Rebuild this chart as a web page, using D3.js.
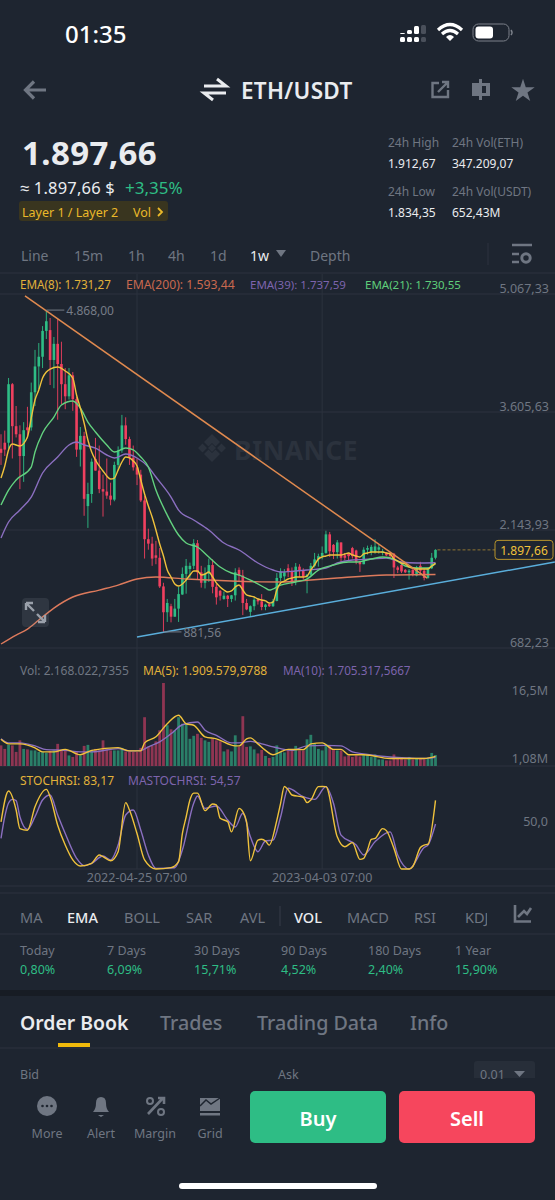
<!DOCTYPE html>
<html>
<head>
<meta charset="utf-8">
<script src="https://cdn.jsdelivr.net/npm/d3@7"></script>
<style>
  html, body { margin: 0; padding: 0; background: #1e2530; }
  svg { display: block; }
  text { font-family: "Noto Sans", sans-serif; }
</style>
</head>
<body>
<div id="chart"></div>
<script>
// weekly ETH/USDT candles: open, high, low, close
var ohlc = [
  [3150,3330,2950,3100],[3225,3375,3060,3140],[3225,4027,3150,3950],[3950,3965,3030,3430],
  [3430,3680,3290,3330],[3330,3440,2650,3060],[3060,3480,2740,3380],[3415,3670,3280,3380],
  [3415,3970,3375,3850],[3850,4375,3680,4170],[4170,4460,3890,4290],[4290,4670,4150,4610],
  [4610,4868,4510,4730],[4620,4770,3940,4250],[4250,4535,3900,4450],[4450,4755,3510,4200],
  [4200,4476,3700,3950],[3950,4150,3640,3800],[3800,4150,3760,4060],[4060,4100,3620,3765],
  [3765,3795,3050,3140],[3140,3420,2930,3310],[3310,3360,2320,2530],[2440,2730,2170,2590],
  [2590,3030,2480,2990],[3025,3285,2880,2880],[2880,3190,2600,2650],[2650,2830,2310,2620],
  [2620,3030,2530,2570],[2570,2730,2450,2520],[2520,2990,2500,2950],[2950,3180,2880,3130],
  [3130,3570,3100,3440],[3440,3540,3200,3270],[3270,3300,2950,3040],[3040,3190,2880,2920],
  [2920,3030,2700,2830],[2830,2890,2490,2510],[2510,2570,1790,2030],[2030,2160,1900,1975],
  [1975,2060,1700,1790],[1830,2010,1720,1800],[1800,1920,1425,1445],[1445,1490,881.56,1125],
  [1125,1290,1005,1240],[1200,1230,1000,1070],[1070,1290,1070,1170],[1170,1440,1005,1350],
  [1345,1680,1340,1600],[1600,1785,1355,1700],[1660,1740,1550,1700],[1700,2030,1660,1980],
  [1980,2020,1530,1620],[1620,1700,1430,1490],[1490,1680,1420,1600],[1600,1790,1500,1710],
  [1710,1780,1360,1440],[1440,1480,1220,1310],[1390,1400,1270,1330],[1290,1380,1280,1330],
  [1330,1340,1190,1290],[1290,1340,1250,1335],[1335,1670,1270,1620],[1650,1680,1500,1580],
  [1580,1650,1090,1240],[1240,1290,1150,1160],[1130,1210,1070,1200],[1200,1300,1150,1280],
  [1280,1300,1220,1260],[1260,1350,1150,1190],[1190,1230,1150,1220],[1225,1240,1190,1200],
  [1200,1290,1190,1265],[1265,1610,1260,1550],[1550,1670,1510,1630],[1570,1660,1520,1620],
  [1670,1720,1560,1630],[1630,1680,1450,1510],[1510,1735,1460,1690],[1690,1720,1560,1640],
  [1640,1670,1530,1565],[1565,1600,1360,1590],[1590,1735,1580,1700],[1700,1860,1680,1780],
  [1780,1850,1690,1820],[1820,1940,1780,1860],[1860,2135,1850,2090],[2090,2120,1810,1880],
  [1960,1970,1785,1870],[1870,2020,1790,1990],[1990,1990,1740,1800],[1830,1860,1770,1800],
  [1850,1860,1760,1820],[1920,1935,1790,1820],[1890,1900,1720,1750],[1750,1760,1625,1720],
  [1720,1930,1720,1900],[1900,1950,1840,1920],[1870,1960,1830,1935],[1870,2030,1850,1940],
  [1900,1960,1850,1930],[1860,1910,1830,1880],[1860,1870,1820,1830],[1860,1870,1790,1820],
  [1850,1860,1550,1680],[1680,1700,1610,1650],[1710,1740,1610,1630],[1650,1660,1610,1620],
  [1620,1660,1530,1640],[1650,1660,1570,1600],[1580,1700,1570,1680],[1700,1750,1600,1640],
  [1640,1660,1520,1550],[1550,1680,1540,1670],[1670,1860,1660,1800],[1800,1905,1780,1897.66]
];

// weekly volume in millions
var volume = [
  4.1,3.4,4.2,4.1,2.8,5.1,3.4,3.3,3.1,3.1,2.8,2.8,2.6,3.0,3.1,4.4,3.2,3.1,2.1,1.8,
  2.8,2.1,4.0,4.2,3.1,3.4,3.1,5.1,3.4,3.1,3.1,3.1,3.6,2.9,2.9,2.8,2.8,3.6,9.7,3.8,
  4.0,4.9,7.1,16.5,8.1,7.3,7.1,9.7,8.4,8.4,5.4,6.0,6.4,5.6,5.1,4.8,5.4,5.1,4.9,2.9,
  3.3,2.9,6.1,3.8,9.9,3.8,3.9,3.3,2.5,3.2,2.0,1.6,1.8,4.1,2.8,2.7,3.1,3.1,4.0,3.1,
  3.1,5.3,6.2,4.4,3.4,3.1,4.4,4.1,3.4,3.1,3.1,1.9,2.1,1.8,2.1,1.9,2.3,2.3,1.8,2.3,
  1.3,1.3,1.1,1.1,2.3,1.5,1.6,1.3,1.8,1.3,1.5,1.5,1.3,1.6,2.6,2.168
];

// indicator lines: [week index, value]
var ema8 = [[0,2788],[1,2937],[2,3135],[3,3209],[5,3185],[7,3296],[8,3531],[9,3754],[10,3878],[11,4027],[12,4101],[13,4138],[15,4163],[17,4114],[19,4027],[20,3816],[21,3655],[22,3469],[23,3259],[24,3110],[25,3011],[26,2937],[27,2875],[28,2813],[29,2776],[30,2788],[31,2887],[32,2986],[33,3048],[34,3036],[35,2999],[36,2937],[37,2763],[38,2590],[39,2441],[40,2305],[41,2144],[42,1970],[43,1822],[44,1649],[45,1562],[46,1475],[47,1450],[48,1475],[49,1525],[50,1587],[51,1636],[52,1636],[53,1587],[54,1599],[55,1624],[56,1562],[57,1488],[58,1438],[59,1401],[60,1376],[61,1389],[62,1438],[63,1463],[64,1401],[65,1339],[66,1326],[67,1314],[68,1289],[69,1277],[70,1265],[71,1240],[72,1252],[73,1401],[74,1487],[75,1512],[76,1537],[77,1549],[78,1562],[80,1562],[81,1574],[82,1649],[83,1711],[84,1785],[85,1810],[86,1822],[87,1835],[90,1835],[91,1847],[92,1859],[93,1835],[94,1822],[95,1810],[96,1847],[97,1859],[98,1871],[101,1871],[102,1859],[103,1847],[104,1785],[105,1760],[106,1735],[107,1723],[108,1686],[109,1673],[110,1661],[113,1661],[114,1698],[115,1731.27]];
var ema21 = [[0,2453],[2,2639],[4,2763],[8,2924],[9,3110],[11,3345],[14,3543],[16,3692],[19,3742],[21,3655],[23,3481],[25,3358],[28,3197],[30,3110],[33,3159],[35,3135],[37,3048],[39,2924],[41,2639],[44,2329],[47,2082],[49,1983],[52,1933],[55,1809],[58,1685],[61,1611],[63,1586],[67,1500],[70,1425],[71,1400],[74,1462],[78,1500],[81,1537],[84,1648],[88,1710],[92,1747],[94,1747],[98,1784],[101,1809],[104,1784],[107,1698],[110,1673],[113,1673],[115,1730.55]];
var ema39 = [[0,2045],[2,2243],[5,2391],[8,2552],[11,2850],[15,3048],[18,3197],[20,3234],[22,3197],[25,3159],[28,3073],[30,3036],[33,3085],[36,3036],[39,2924],[41,2800],[45,2552],[47,2391],[51,2268],[55,2144],[59,1983],[63,1896],[68,1735],[72,1648],[74,1623],[78,1636],[81,1648],[86,1673],[89,1735],[93,1772],[98,1784],[102,1797],[106,1747],[110,1735],[115,1737.59]];
var ema200 = [[0,732],[4,843],[7,917],[10,1029],[14,1177],[19,1314],[26,1400],[31,1462],[36,1537],[41,1562],[49,1537],[61,1512],[74,1500],[82,1524],[89,1549],[102,1586],[115,1593.44]];
var volMa5 = [[0,5.3],[2,4.4],[5,4.4],[9,3.6],[11,2.8],[14,2.8],[17,3.3],[21,2.25],[24,3.1],[31,3.65],[34,3.0],[37,3.0],[38,4.6],[41,5.8],[44,8.4],[47,10.1],[49,8.4],[51,8.1],[54,5.8],[57,5.4],[62,4.0],[63,4.0],[65,5.4],[66,5.6],[68,4.4],[70,3.1],[72,2.25],[74,2.8],[76,3.3],[80,3.25],[82,4.4],[85,4.6],[88,3.3],[90,3.3],[92,2.25],[96,2.25],[103,1.5],[108,1.5],[112,1.5],[115,1.91]];
var volMa10 = [[0,5.4],[2,4.6],[5,4.6],[9,4.0],[12,3.25],[17,3.1],[21,2.8],[24,2.8],[31,3.45],[34,3.0],[37,3.1],[39,3.8],[42,4.8],[45,6.4],[48,8.2],[52,8.75],[54,7.1],[57,6.1],[61,4.6],[63,4.6],[66,4.9],[69,4.4],[72,3.8],[74,3.45],[77,3.1],[81,4.0],[86,4.1],[90,4.0],[93,2.8],[97,2.3],[103,1.8],[108,1.6],[112,1.5],[115,1.705]];
var stochRsi = [[0,57],[2,94.5],[4,71.5],[5,49],[7,47],[9,75.5],[12,96.5],[13,87.7],[15,53],[17,29],[19,11],[21,3.6],[24,6.9],[26,17],[27,15],[29,10],[31,21],[33,80.4],[34,71.5],[36,43],[38,11],[41,0],[45,1.6],[47,8.9],[48,43],[49,63],[50,83.6],[51,92],[52,92],[54,70.7],[56,78.8],[57,77.6],[58,61.4],[60,57.4],[61,45],[63,73.5],[64,69.5],[65,57],[66,10],[68,35],[69,36],[70,34],[71,29],[73,59],[74,79.6],[75,100],[76,96],[77,89.7],[80,87],[81,80.4],[82,83.6],[84,99.8],[85,100],[86,99.8],[89,39],[91,27],[93,32],[95,11.7],[96,13],[97,23],[98,36],[99,37],[101,49],[102,46.5],[104,25],[106,0],[108,0],[109,3],[111,26],[112,29],[113,30],[115,83.17]];
var maStochRsi = [[0,37],[1,63.4],[2,80],[3,84.4],[4,82.8],[5,63.4],[7,48],[9,63.4],[11,83.6],[13,89.7],[15,65.4],[17,43],[20,13],[22,4],[24,6.9],[27,15.8],[29,11],[31,29],[33,65.4],[35,71.5],[37,47],[39,17],[41,0.8],[46,1.6],[48,23],[51,79.6],[52,88.5],[54,73.5],[57,76.4],[60,59.4],[62,51],[64,67.5],[66,39],[68,21],[70,34],[72,35],[74,63],[76,97.8],[80,87.7],[83,84.4],[86,99.8],[88,79.6],[90,41],[94,29],[96,17],[99,33],[103,45],[105,17],[108,0],[112,26],[113,29],[115,54.57]];

// hand-drawn trend lines: [week index, price]
var downTrend = [[6.35,5043],[112.8,1549]];
var upTrend = [[36,818],[146.6,1747]];

var priceTicks = [5067.33,3605.63,2143.93,682.23];
var volumeTicks = [16.5,1.08];
var stochTicks = [50];
var dateWeeks = [36,85];
var dateLabels = ["2022-04-25 07:00","2023-04-03 07:00"];

var timeTabs = ["Line","15m","1h","4h","1d","1w","Depth"];
var timeTabX = [21,74,128,168,210,250,310];
var indicatorTabs = ["MA","EMA","BOLL","SAR","AVL","VOL","MACD","RSI","KDJ"];
var indicatorTabX = [20,67,124,186,240,294,347,414,465];
var periodLabels = ["Today","7 Days","30 Days","90 Days","180 Days","1 Year"];
var periodValues = ["0,80%","6,09%","15,71%","4,52%","2,40%","15,90%"];
var periodX = [20,107,194,281,368,455];
var bookTabs = ["Order Book","Trades","Trading Data","Info"];
var bookTabX = [20,160,257,410];
var navLabels = ["More","Alert","Margin","Grid"];
var navX = [47,101,155,210];

var GREEN = "#2ebd85", RED = "#f0405f", GREY = "#6f7682", LIGHT = "#eaecef";
var YELLOW = "#e2b23a", PURPLE = "#7d64ad", ORANGE = "#c9694f", LIME = "#5fce7a";

var svg = d3.select("#chart").append("svg").attr("width", 555).attr("height", 1200);
svg.append("rect").attr("width", 555).attr("height", 1200).attr("fill", "#1e2530");

function label(text, x, y, size, fill, opts) {
  opts = opts || {};
  return svg.append("text").text(text).attr("x", x).attr("y", y)
    .attr("font-size", size).attr("fill", fill)
    .attr("dominant-baseline", "central")
    .attr("text-anchor", opts.anchor || "start")
    .attr("font-weight", opts.weight || 400)
    .attr("font-family", opts.font || null)
    .attr("letter-spacing", opts.spacing || null);
}

function hline(y, x1, x2, color) {
  svg.append("line").attr("x1", x1 || 0).attr("x2", x2 || 555).attr("y1", y).attr("y2", y)
    .attr("stroke", color || "#2c333e").attr("stroke-width", 1);
}

// ---- scales
var x = d3.scaleLinear().domain([0, 115]).range([1, 435.5]);
var yPrice = d3.scaleLinear().domain([682.23, 5067.33]).range([648, 294]);
var yVol = d3.scaleLinear().domain([0, 16.5]).range([766, 683]);
var yStoch = d3.scaleLinear().domain([0, 100]).range([869, 786.5]);

var priceFmt = d3.formatLocale({decimal: ",", thousands: ".", grouping: [3], currency: ["", ""]}).format(",.2f");
var numFmt = d3.formatLocale({decimal: ",", thousands: ".", grouping: [3], currency: ["", ""]});

// ---- status bar
label("01:35", 65, 33, 24, "#fff", {weight: 500, font: "Inter"});
var sig = svg.append("g");
[[400,33],[407,30],[414,26],[421,25]].forEach(function(c, i) {
  var col = i == 3 ? "#4a505b" : "#fff";
  sig.append("rect").attr("x", c[0]).attr("y", c[1]).attr("width", 5).attr("height", 33 - c[1] + 1).attr("rx", 1.5).attr("fill", col);
  sig.append("rect").attr("x", c[0]).attr("y", 37).attr("width", 5).attr("height", 5).attr("rx", 1.5).attr("fill", col);
});
svg.append("path").attr("d", "M438 30 Q450 19 462 30 M442 34 Q450 27 458 34").attr("fill", "none").attr("stroke", "#fff").attr("stroke-width", 3.2);
svg.append("path").attr("d", "M446 37 Q450 33 454 37 L450 41 Z").attr("fill", "#fff");
svg.append("rect").attr("x", 473).attr("y", 24).attr("width", 36).attr("height", 17).attr("rx", 5.5).attr("fill", "none").attr("stroke", "#7c818a");
svg.append("rect").attr("x", 475.5).attr("y", 26.5).attr("width", 17.5).attr("height", 12).attr("rx", 3).attr("fill", "#fff");
svg.append("path").attr("d", "M511 30 Q513 32.5 511 35").attr("fill", "none").attr("stroke", "#7c818a").attr("stroke-width", 1.5);

// ---- header
svg.append("path").attr("d", "M46 90 H26 M34 81.5 L25.5 90 L34 98.5").attr("fill", "none").attr("stroke", GREY).attr("stroke-width", 3.2);
svg.append("path").attr("d", "M204 86 H226 L217 79 M226 93 H204 L213 100").attr("fill", "none").attr("stroke", LIGHT).attr("stroke-width", 3);
label("ETH/USDT", 241, 90, 22.5, LIGHT, {weight: 600, spacing: 0.3});
svg.append("path").attr("d", "M439 83 H432.5 V97 H448 V90 M438 92 L448 82 M442 82 H448 V88").attr("fill", "none").attr("stroke", GREY).attr("stroke-width", 2.4);
svg.append("path").attr("d", "M479 79 h3 v4 h8 v13 h-8 v4 h-3 v-4 h-7 v-13 h7 Z").attr("fill", GREY);
svg.append("rect").attr("x", 482).attr("y", 86).attr("width", 4).attr("height", 7).attr("fill", "#1e2530");
svg.append("path").attr("d", d3.symbol().type(d3.symbolStar).size(170)()).attr("transform", "translate(523,91)").attr("fill", GREY);

label("1.897,66", 22, 152, 33, LIGHT, {weight: 700, spacing: 0.4});
label("≈ 1.897,66 $", 20, 187, 16.5, LIGHT, {spacing: 0.2});
label("+3,35%", 125, 187, 17, GREEN);
svg.append("rect").attr("x", 19).attr("y", 201).attr("width", 149).attr("height", 20).attr("rx", 3).attr("fill", "#39351f");
label("Layer 1 / Layer 2", 22, 212, 12.5, "#eab92a");
label("Vol", 133, 212, 12.5, "#eab92a");
svg.append("path").attr("d", "M158 208 L162 212 L158 216").attr("fill", "none").attr("stroke", "#eab92a").attr("stroke-width", 1.8);

label("24h High", 388, 142, 12, GREY);
label("1.912,67", 388, 163, 12, LIGHT);
label("24h Low", 388, 191, 12, GREY);
label("1.834,35", 388, 212, 12, LIGHT);
label("24h Vol(ETH)", 452, 142, 12, GREY);
label("347.209,07", 452, 163, 12, LIGHT);
label("24h Vol(USDT)", 452, 191, 12, GREY);
label("652,43M", 452, 212, 12, LIGHT);

// ---- interval tabs
timeTabs.forEach(function(t, i) {
  label(t, timeTabX[i], 255, 14, t == "1w" ? LIGHT : GREY, {weight: 400});
});
svg.append("path").attr("d", "M276 250 H286 L281 257 Z").attr("fill", GREY);
hline(273, 0, 555);
svg.append("line").attr("x1", 488).attr("x2", 488).attr("y1", 243).attr("y2", 265).attr("stroke", "#2c333e");
svg.append("path").attr("d", "M512 245 H532 M512 254 H519 M512 262 H519").attr("stroke", GREY).attr("stroke-width", 2.5).attr("fill", "none");
svg.append("circle").attr("cx", 526).attr("cy", 258).attr("r", 4.2).attr("fill", "none").attr("stroke", GREY).attr("stroke-width", 3);

// ---- grid
priceTicks.forEach(function(t) { hline(yPrice(t)); });
hline(766);
hline(869);
hline(886);
dateWeeks.forEach(function(w) {
  svg.append("line").attr("x1", x(w)).attr("x2", x(w)).attr("y1", 274).attr("y2", 869).attr("stroke", "#2c333e");
});

// ---- watermark
svg.append("path").attr("d", "M212 434 L220 442 L215.5 446.5 L212 443 L208.5 446.5 L204 442 Z M198 448 L202.5 443.5 L207 448 L202.5 452.5 Z M226 448 L221.5 443.5 L217 448 L221.5 452.5 Z M208 448 L212 444 L216 448 L212 452 Z M204 454 L208.5 449.5 L212 453 L215.5 449.5 L220 454 L212 462 Z").attr("fill", "#2b323d");
label("BINANCE", 234, 450, 26.5, "#2b323d", {weight: 700, spacing: 0.4});

// ---- candles
var candles = svg.append("g").selectAll("g").data(ohlc).enter().append("g");
candles.append("line")
  .attr("x1", function(d, i) { return x(i); }).attr("x2", function(d, i) { return x(i); })
  .attr("y1", function(d) { return yPrice(d[1]); }).attr("y2", function(d) { return yPrice(d[2]); })
  .attr("stroke", function(d) { return d[3] >= d[0] ? GREEN : RED; }).attr("stroke-width", 0.9);
candles.append("rect")
  .attr("x", function(d, i) { return x(i) - 1.3; }).attr("width", 2.6)
  .attr("y", function(d) { return yPrice(Math.max(d[0], d[3])); })
  .attr("height", function(d) { return Math.max(1, Math.abs(yPrice(d[0]) - yPrice(d[3]))); })
  .attr("fill", function(d) { return d[3] >= d[0] ? GREEN : RED; });

function drawLine(data, yScale, color, curve, width) {
  var gen = d3.line().x(function(d) { return x(d[0]); }).y(function(d) { return yScale(d[1]); }).curve(curve || d3.curveMonotoneX);
  svg.append("path").datum(data).attr("d", gen).attr("fill", "none").attr("stroke", color).attr("stroke-width", width || 1.4).attr("stroke-linejoin", "round");
}

drawLine(ema200, yPrice, "#dd7a5c");
drawLine(ema39, yPrice, "#8b6fc0");
drawLine(ema21, yPrice, "#63d27f");
drawLine(ema8, yPrice, "#f0c23c");

// trend lines, the up line runs off the right edge of the page
drawLine(downTrend, yPrice, "#e08a4f", d3.curveLinear, 1.5);
drawLine(upTrend, yPrice, "#5aaedb", d3.curveLinear, 1.5);

// high / low marks
var high = 4868, low = 881.56;
svg.append("line").attr("x1", x(12)).attr("x2", x(12) + 18).attr("y1", yPrice(high)).attr("y2", yPrice(high)).attr("stroke", "#767c87");
label(priceFmt(high), x(12) + 20, yPrice(high) + 0.5, 12, "#767c87");
svg.append("line").attr("x1", x(43)).attr("x2", x(43) + 18).attr("y1", yPrice(low)).attr("y2", yPrice(low)).attr("stroke", "#767c87");
label(priceFmt(low), x(43) + 20, yPrice(low) + 0.5, 12, "#767c87");

// last price tag
var last = ohlc[ohlc.length - 1][3];
svg.append("line").attr("x1", x(115) + 2).attr("x2", 495).attr("y1", yPrice(last)).attr("y2", yPrice(last))
  .attr("stroke", "#8f7430").attr("stroke-dasharray", "3,2");
svg.append("rect").attr("x", 495).attr("y", yPrice(last) - 9.5).attr("width", 58).attr("height", 19).attr("rx", 3)
  .attr("fill", "#1e2530").attr("stroke", "#b8952c");
label(priceFmt(last), 524, yPrice(last) + 0.5, 12, "#f0c23c", {anchor: "middle"});

// expand button
svg.append("rect").attr("x", 22).attr("y", 598).attr("width", 27).attr("height", 29).attr("rx", 4).attr("fill", "#9aa0aa").attr("opacity", 0.14);
svg.append("path").attr("d", "M26 603 V610 M26 603 H33 M26 603 L34 611 M45 622 V615 M45 622 H38 M45 622 L37 614").attr("fill", "none").attr("stroke", "#9aa0aa").attr("stroke-width", 2.4);

// ---- price axis, labels sit just above their grid line
var priceAxis = d3.axisLeft(yPrice).tickValues(priceTicks).tickSize(0).tickPadding(0).tickFormat(priceFmt);
var pa = svg.append("g").attr("transform", "translate(549,0)").call(priceAxis);
pa.select(".domain").remove();
pa.selectAll("text").attr("y", -6).attr("dy", "0.32em").attr("font-size", 12.5).attr("fill", GREY).attr("font-family", "Noto Sans");

// legends
label("EMA(8): 1.731,27", 20, 284, 11.7, YELLOW);
label("EMA(200): 1.593,44", 126, 284, 12.2, ORANGE);
label("EMA(39): 1.737,59", 250, 284, 11.5, PURPLE);
label("EMA(21): 1.730,55", 365, 284, 11.5, LIME);

// ---- volume panel
label("Vol: 2.168.022,7355", 20, 670, 12, GREY);
label("MA(5): 1.909.579,9788", 143, 670, 12, YELLOW);
label("MA(10): 1.705.317,5667", 283, 670, 11.7, PURPLE);

svg.append("g").selectAll("rect").data(volume).enter().append("rect")
  .attr("x", function(d, i) { return x(i) - 1.4; }).attr("width", 2.8)
  .attr("y", function(d) { return yVol(d); })
  .attr("height", function(d) { return yVol(0) - yVol(d); })
  .attr("fill", function(d, i) { return ohlc[i][3] >= ohlc[i][0] ? "#2a7f68" : "#8f3552"; });

drawLine(volMa10, yVol, "#8b6fc0");
drawLine(volMa5, yVol, "#f0c23c");

var volAxis = d3.axisLeft(yVol).tickValues(volumeTicks).tickSize(0).tickPadding(0).tickFormat(function(d) { return numFmt.format(d < 2 ? ".2f" : ".1f")(d) + "M"; });
var va = svg.append("g").attr("transform", "translate(548,0)").call(volAxis);
va.select(".domain").remove();
va.selectAll("text").attr("y", function(d) { return d > 2 ? 7 : -2; }).attr("dy", "0.32em").attr("font-size", 12.5).attr("fill", GREY).attr("font-family", "Noto Sans");

// ---- stoch rsi panel
label("STOCHRSI: 83,17", 20, 780, 12, YELLOW);
label("MASTOCHRSI: 54,57", 128, 780, 12, PURPLE);
drawLine(maStochRsi, yStoch, "#8b6fc0");
drawLine(stochRsi, yStoch, "#f0c23c");

var stochAxis = d3.axisLeft(yStoch).tickValues(stochTicks).tickSize(0).tickPadding(0).tickFormat(numFmt.format(".1f"));
var sa = svg.append("g").attr("transform", "translate(548,0)").call(stochAxis);
sa.select(".domain").remove();
sa.selectAll("text").attr("y", -6).attr("dy", "0.32em").attr("font-size", 12.5).attr("fill", GREY).attr("font-family", "Noto Sans");

dateWeeks.forEach(function(w, i) {
  label(dateLabels[i], x(w), 877, 12.5, GREY, {anchor: "middle"});
});

// ---- indicator tabs
hline(893, 0, 555);
hline(934, 0, 555);
indicatorTabs.forEach(function(t, i) {
  var on = t == "EMA" || t == "VOL";
  label(t, indicatorTabX[i], 917, 14.5, on ? LIGHT : GREY, {weight: on ? 500 : 400});
});
svg.append("rect").attr("x", 487).attr("y", 905).attr("width", 68).attr("height", 24).attr("fill", "#1e2530");
svg.append("line").attr("x1", 280).attr("x2", 280).attr("y1", 906).attr("y2", 926).attr("stroke", "#363d49");
svg.append("path").attr("d", "M515 905 V921.5 H531 M518 917 L524 911 L527 914 L531 908").attr("fill", "none").attr("stroke", GREY).attr("stroke-width", 2.6);

periodLabels.forEach(function(t, i) {
  label(t, periodX[i], 950, 12.5, GREY);
  label(periodValues[i], periodX[i], 969, 12.5, GREEN);
});

// ---- order book section
svg.append("rect").attr("y", 990).attr("width", 555).attr("height", 6).attr("fill", "#171c24");
bookTabs.forEach(function(t, i) {
  label(t, bookTabX[i], 1022, i == 0 ? 19.4 : 19.7, i == 0 ? LIGHT : GREY, {weight: i == 0 ? 600 : 500});
});
hline(1048);
svg.append("rect").attr("x", 58).attr("y", 1043).attr("width", 32).attr("height", 4).attr("fill", "#f0b90b");
label("Bid", 20, 1074, 12.5, GREY);
label("Ask", 278, 1074, 12.5, GREY);
svg.append("path").attr("d", "M474 1078 V1064 Q474 1061 477 1061 H532 Q535 1061 535 1064 V1078 Z").attr("fill", "#272e39");
label("0.01", 480, 1074, 12.5, GREY);
svg.append("path").attr("d", "M514 1071 H525 L519.5 1077 Z").attr("fill", GREY);

// ---- bottom bar
svg.append("rect").attr("y", 1081).attr("width", 555).attr("height", 119).attr("fill", "#1e2530");
navLabels.forEach(function(t, i) {
  label(t, navX[i], 1133, 12.5, GREY, {anchor: "middle"});
});
svg.append("circle").attr("cx", 47).attr("cy", 1106).attr("r", 10).attr("fill", GREY);
[42.5,47,51.5].forEach(function(px) {
  svg.append("circle").attr("cx", px).attr("cy", 1106).attr("r", 1.3).attr("fill", "#1e2530");
});
svg.append("path").attr("d", "M93 1112 Q96 1109 96 1103 Q96 1097 101 1097 Q106 1097 106 1103 Q106 1109 109 1112 Z M98 1115 H104 L101 1117 Z").attr("fill", GREY);
svg.append("path").attr("d", "M148 1114 L163 1098 M158 1098 H164 V1104").attr("fill", "none").attr("stroke", GREY).attr("stroke-width", 2.6);
svg.append("circle").attr("cx", 150).attr("cy", 1101).attr("r", 3).attr("fill", "none").attr("stroke", GREY).attr("stroke-width", 2);
svg.append("circle").attr("cx", 161).attr("cy", 1112).attr("r", 3).attr("fill", "none").attr("stroke", GREY).attr("stroke-width", 2);
svg.append("path").attr("d", "M200 1098 H220 V1111 H200 Z").attr("fill", GREY);
svg.append("path").attr("d", "M200 1106 L206 1100 L211 1104 L220 1098").attr("fill", "none").attr("stroke", "#1e2530").attr("stroke-width", 1.5);
svg.append("rect").attr("x", 200).attr("y", 1113).attr("width", 20).attr("height", 2.5).attr("fill", GREY);

svg.append("rect").attr("x", 250).attr("y", 1091).attr("width", 136).attr("height", 52).attr("rx", 5).attr("fill", GREEN);
svg.append("rect").attr("x", 399).attr("y", 1091).attr("width", 136).attr("height", 52).attr("rx", 5).attr("fill", "#f6465d");
label("Buy", 318, 1118, 20, "#fff", {anchor: "middle", weight: 600});
label("Sell", 467, 1118, 20, "#fff", {anchor: "middle", weight: 600});
svg.append("rect").attr("x", 179).attr("y", 1183).attr("width", 198).attr("height", 6).attr("rx", 3).attr("fill", "#fff");
</script>
</body>
</html>
